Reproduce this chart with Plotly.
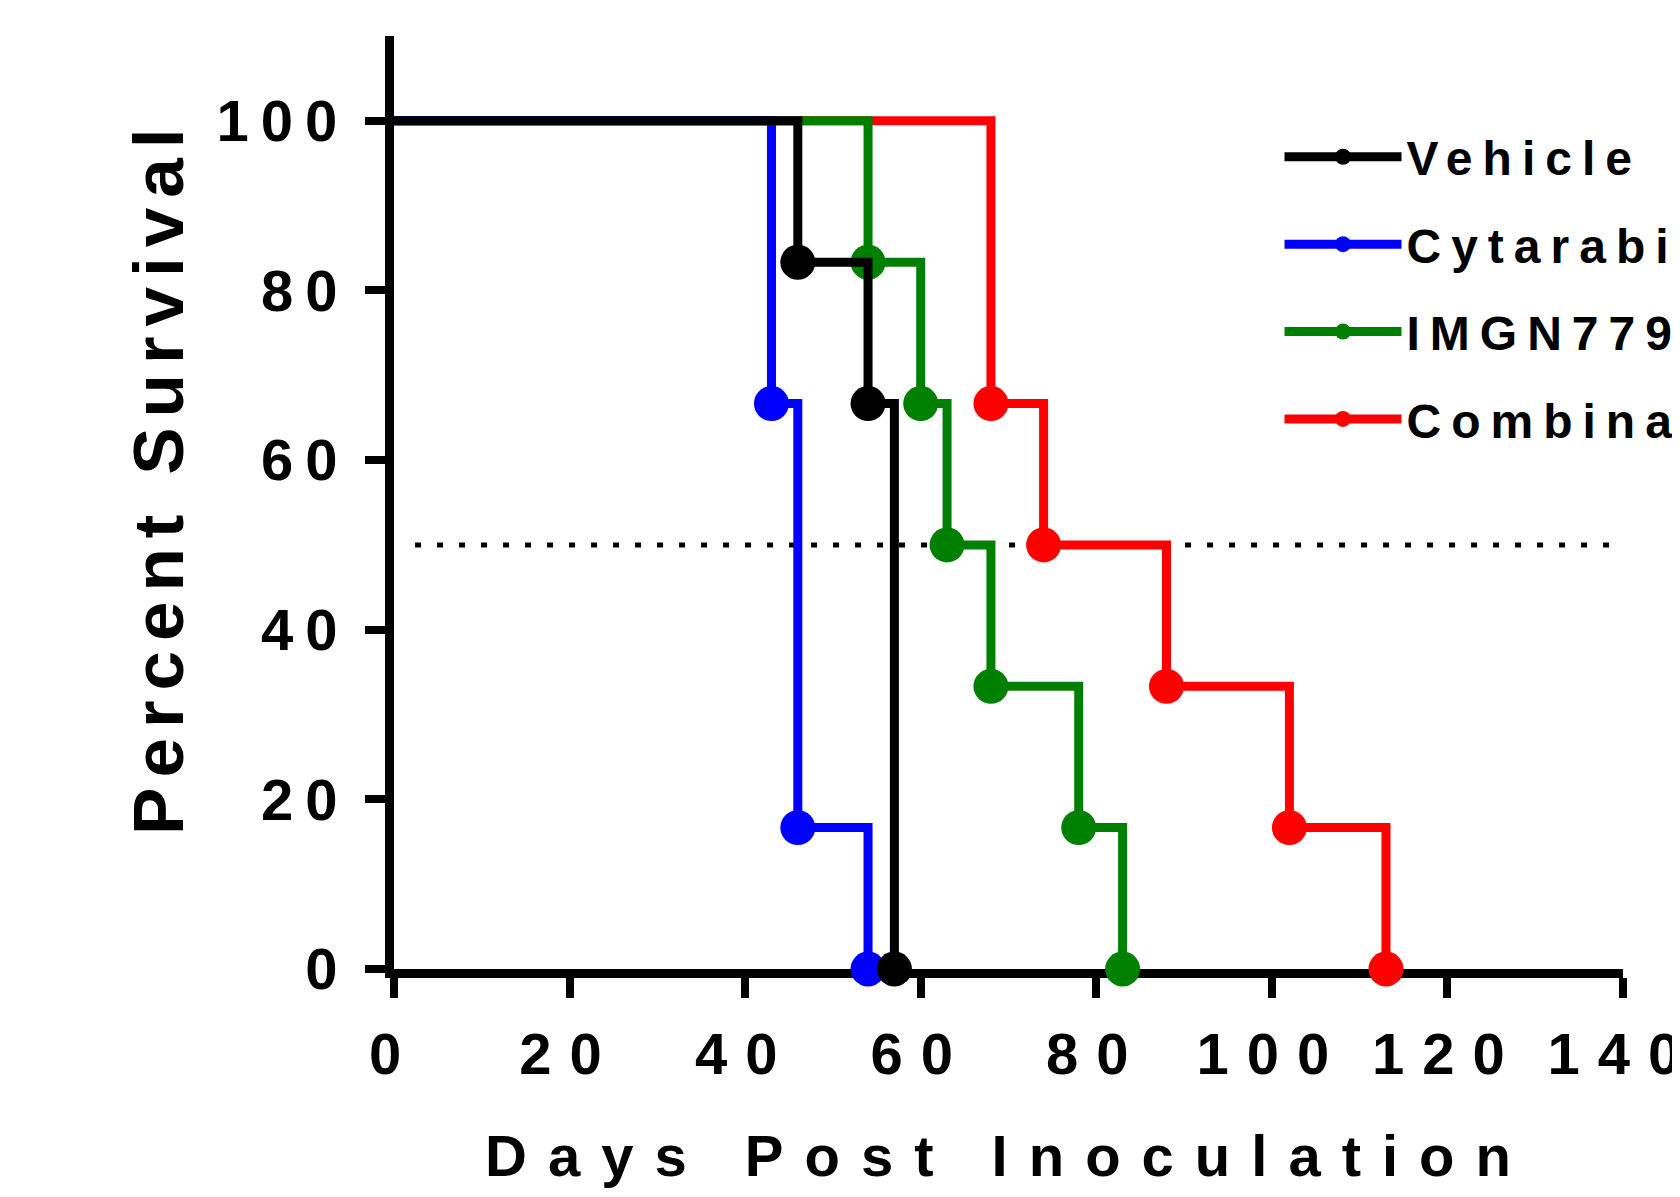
import plotly.graph_objects as go

# ---- data ----
series_names = ["Vehicle", "Cytarabine", "IMGN779", "Combination"]
series_colors = ["#000000", "#0000FF", "#008000", "#FF0000"]

vehicle_days = [0, 46, 54, 57]
vehicle_surv = [100, 83.33, 66.67, 0]

cytarabine_days = [0, 43, 46, 54]
cytarabine_surv = [100, 66.67, 16.67, 0]

imgn779_days = [0, 54, 60, 63, 68, 78, 83]
imgn779_surv = [100, 83.33, 66.67, 50, 33.33, 16.67, 0]

combination_days = [0, 68, 74, 88, 102, 113]
combination_surv = [100, 66.67, 50, 33.33, 16.67, 0]

x_tick_values = [0, 20, 40, 60, 80, 100, 120, 140]
y_tick_values = [0, 20, 40, 60, 80, 100]
median_level = 50

x_title = "Days Post Inoculation"
y_title = "Percent Survival"

# ---- styling ----
FONT = "Liberation Sans, Arial, sans-serif"
MARKER = 35
LW = 9
AXIS_LW = 9


def spaced(text, px):
    return f'<span style="letter-spacing:{px}px">{text}</span>'


all_days = [vehicle_days, cytarabine_days, imgn779_days, combination_days]
all_surv = [vehicle_surv, cytarabine_surv, imgn779_surv, combination_surv]

fig = go.Figure()

# draw order: Combination at the bottom, Vehicle on top
for i in reversed(range(len(series_names))):
    days = all_days[i]
    surv = all_surv[i]
    sizes = [0] + [MARKER] * (len(days) - 1)
    fig.add_trace(go.Scatter(
        x=days, y=surv,
        mode="lines+markers",
        name=spaced(series_names[i], 10),
        legendgroup=series_names[i],
        legendrank=i + 1,
        line=dict(color=series_colors[i], width=LW, shape="hv"),
        marker=dict(color=series_colors[i], size=sizes, opacity=1,
                    line=dict(width=0)),
        cliponaxis=False,
    ))

fig.add_shape(
    type="line", xref="x", yref="y",
    x0=2.4, x1=139, y0=median_level, y1=median_level,
    line=dict(color="black", width=5, dash="6px,16px"),
    layer="below",
)

fig.add_annotation(
    text=spaced(y_title, 10),
    xref="paper", yref="paper", x=-0.1915, y=0.527,
    xanchor="center", yanchor="middle",
    textangle=-90, showarrow=False,
    font=dict(size=71, family=FONT, weight="bold", color="black"),
)

fig.update_layout(
    width=1672, height=1189,
    paper_bgcolor="white", plot_bgcolor="white",
    margin=dict(l=386, r=57.3, t=28, b=228.3, autoexpand=False),
    font=dict(family=FONT, color="black", weight="bold"),
    showlegend=True,
    legend=dict(
        x=0.7205, y=0.911, xanchor="left", yanchor="top",
        font=dict(size=48, family=FONT, weight="bold"),
        bgcolor="rgba(0,0,0,0)",
        tracegroupgap=22,
        itemsizing="trace",
        itemwidth=117,
    ),
    xaxis=dict(
        range=[0, 140],
        tickvals=x_tick_values,
        ticktext=[spaced(str(v), 18) for v in x_tick_values],
        tickfont=dict(size=58, family=FONT, weight="bold"),
        showline=True, linewidth=AXIS_LW, linecolor="black",
        ticks="outside", ticklen=20, tickwidth=8, tickcolor="black",
        showgrid=False, zeroline=False,
        layer="below traces",
        ticklabelstandoff=6,
        ticklabeloverflow="allow",
        title=dict(text=spaced(x_title, 21),
                   font=dict(size=58, family=FONT, weight="bold"),
                   standoff=54),
    ),
    yaxis=dict(
        range=[0, 110],
        tickvals=y_tick_values,
        ticktext=[spaced(str(v), 12) for v in y_tick_values],
        tickfont=dict(size=58, family=FONT, weight="bold"),
        showline=True, linewidth=AXIS_LW, linecolor="black",
        ticks="outside", ticklen=20, tickwidth=8, tickcolor="black",
        showgrid=False, zeroline=False,
        layer="below traces",
        ticklabelstandoff=4,
    ),
)

fig.write_html("out.html")
